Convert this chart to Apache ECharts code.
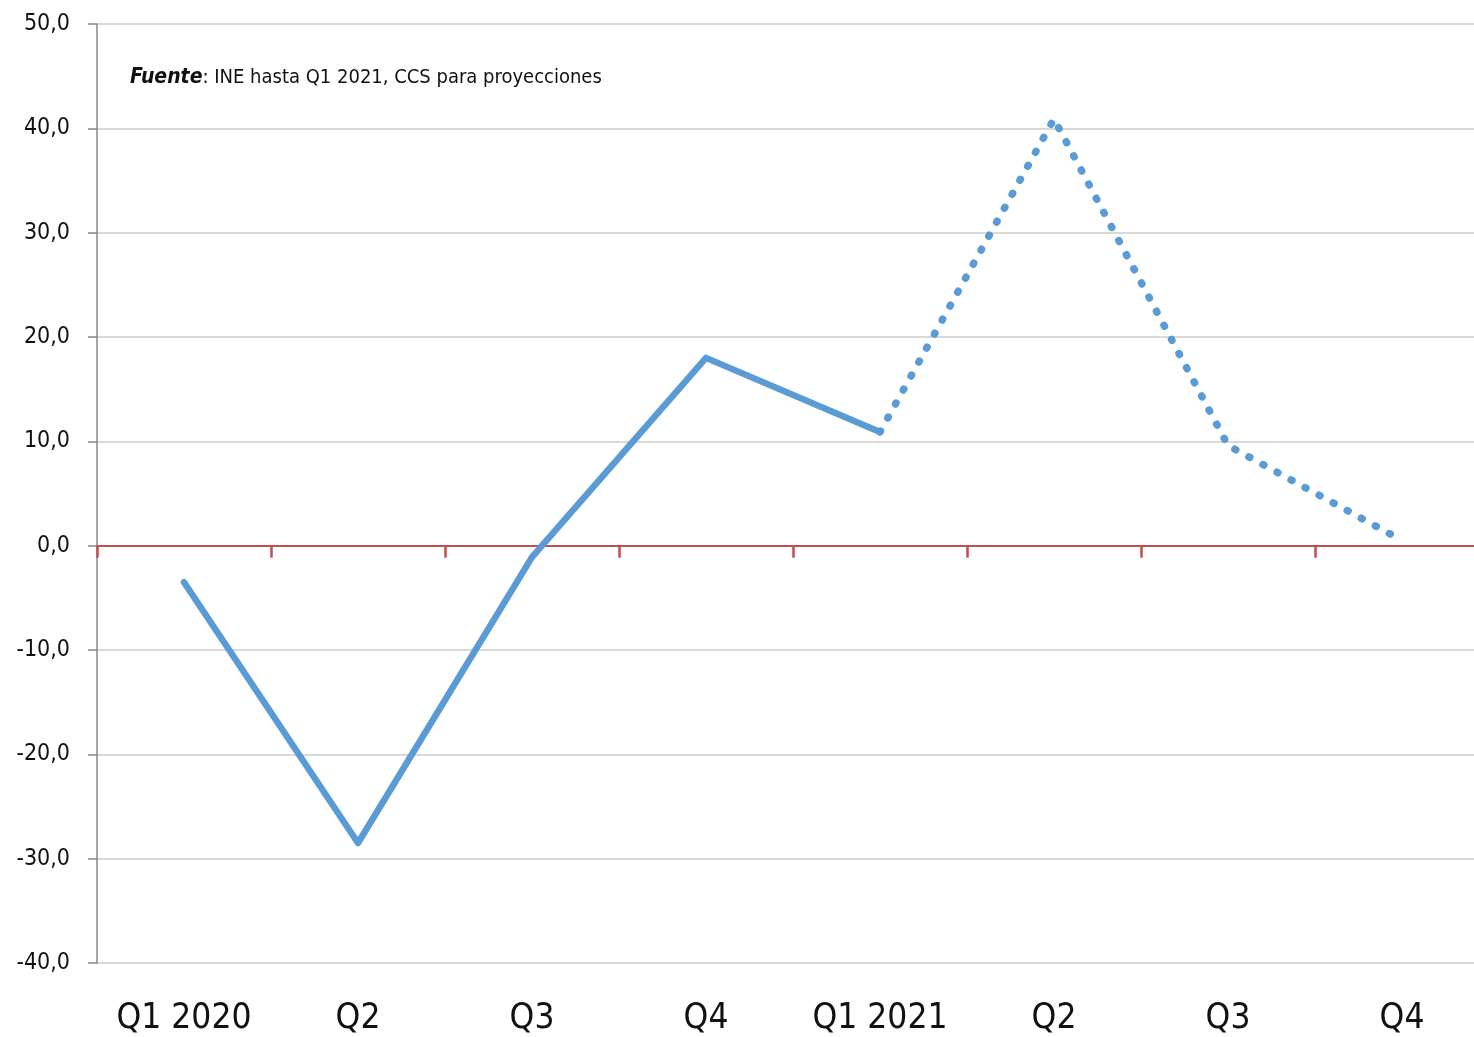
<!DOCTYPE html>
<html>
<head>
<meta charset="utf-8">
<script src="https://cdn.jsdelivr.net/npm/echarts@6/dist/echarts.min.js"></script>
<style>
html,body{margin:0;padding:0;background:#fff;}
#c{width:1474px;height:1037px;}
</style>
</head>
<body>
<div id="c"></div>
<script>
const categories = ['Q1 2020', 'Q2', 'Q3', 'Q4', 'Q1 2021', 'Q2', 'Q3', 'Q4'];
const observed = [-3.5, -28.5, -1.1, 18.0, 10.9, null, null, null];
const projected = [null, null, null, null, 10.9, 40.9, 9.6, 0.5];
const yMin = -40, yMax = 50, yStep = 10;
const sourceLabel = 'Fuente';
const sourceText = ': INE hasta Q1 2021, CCS para proyecciones';

const FONT = '"Liberation Sans Narrow", "DejaVu Sans Condensed", "Roboto", sans-serif';
const chart = echarts.init(document.getElementById('c'), null, {renderer: 'canvas'});
chart.setOption({
  animation: false,
  backgroundColor: '#ffffff',
  grid: {left: 97, top: 24, width: 1392, bottom: 74, containLabel: false, outerBoundsMode: 'none'},
  xAxis: [
    {
      type: 'category', data: categories, position: 'bottom',
      axisLine: {show: false, onZero: false}, axisTick: {show: false},
      axisLabel: {color: '#111', fontFamily: FONT, fontSize: 35, margin: 38, interval: 0}
    },
    {
      type: 'category', data: categories, position: 'bottom',
      axisLine: {show: true, onZero: true, lineStyle: {color: '#C0504D', width: 2}},
      axisTick: {show: true, length: 12, interval: 0, lineStyle: {color: '#C0504D', width: 2.5}},
      axisLabel: {show: false}
    }
  ],
  yAxis: {
    type: 'value', min: yMin, max: yMax, interval: yStep,
    axisLine: {show: true, lineStyle: {color: '#888', width: 1.5}},
    axisTick: {show: true, length: 9, lineStyle: {color: '#888', width: 1.5}},
    splitLine: {show: true, lineStyle: {color: '#D9D9D9', width: 2}},
    axisLabel: {color: '#111', fontFamily: FONT, fontSize: 23, margin: 27,
      formatter: v => v.toFixed(1).replace('.', ',')}
  },
  series: [
    {
      type: 'line', data: observed, xAxisIndex: 0, showSymbol: false, symbol: 'none',
      lineStyle: {color: '#5B9BD5', width: 6.5, cap: 'round', join: 'round'}, z: 3
    },
    {
      type: 'line', data: projected, xAxisIndex: 0, showSymbol: false, symbol: 'none',
      lineStyle: {color: '#5B9BD5', width: 7.5, type: [1, 15], cap: 'round', join: 'round'}, z: 3
    }
  ],
  graphic: [{
    type: 'text', left: 130, top: 67,
    style: {
      text: '{b|' + sourceLabel + '}' + sourceText,
      font: '20px ' + FONT, fill: '#111',
      rich: {b: {fontStyle: 'italic', fontWeight: 'bold', fontSize: 21, fontFamily: FONT, fill: '#111'}}
    }
  }]
});
</script>
</body>
</html>
